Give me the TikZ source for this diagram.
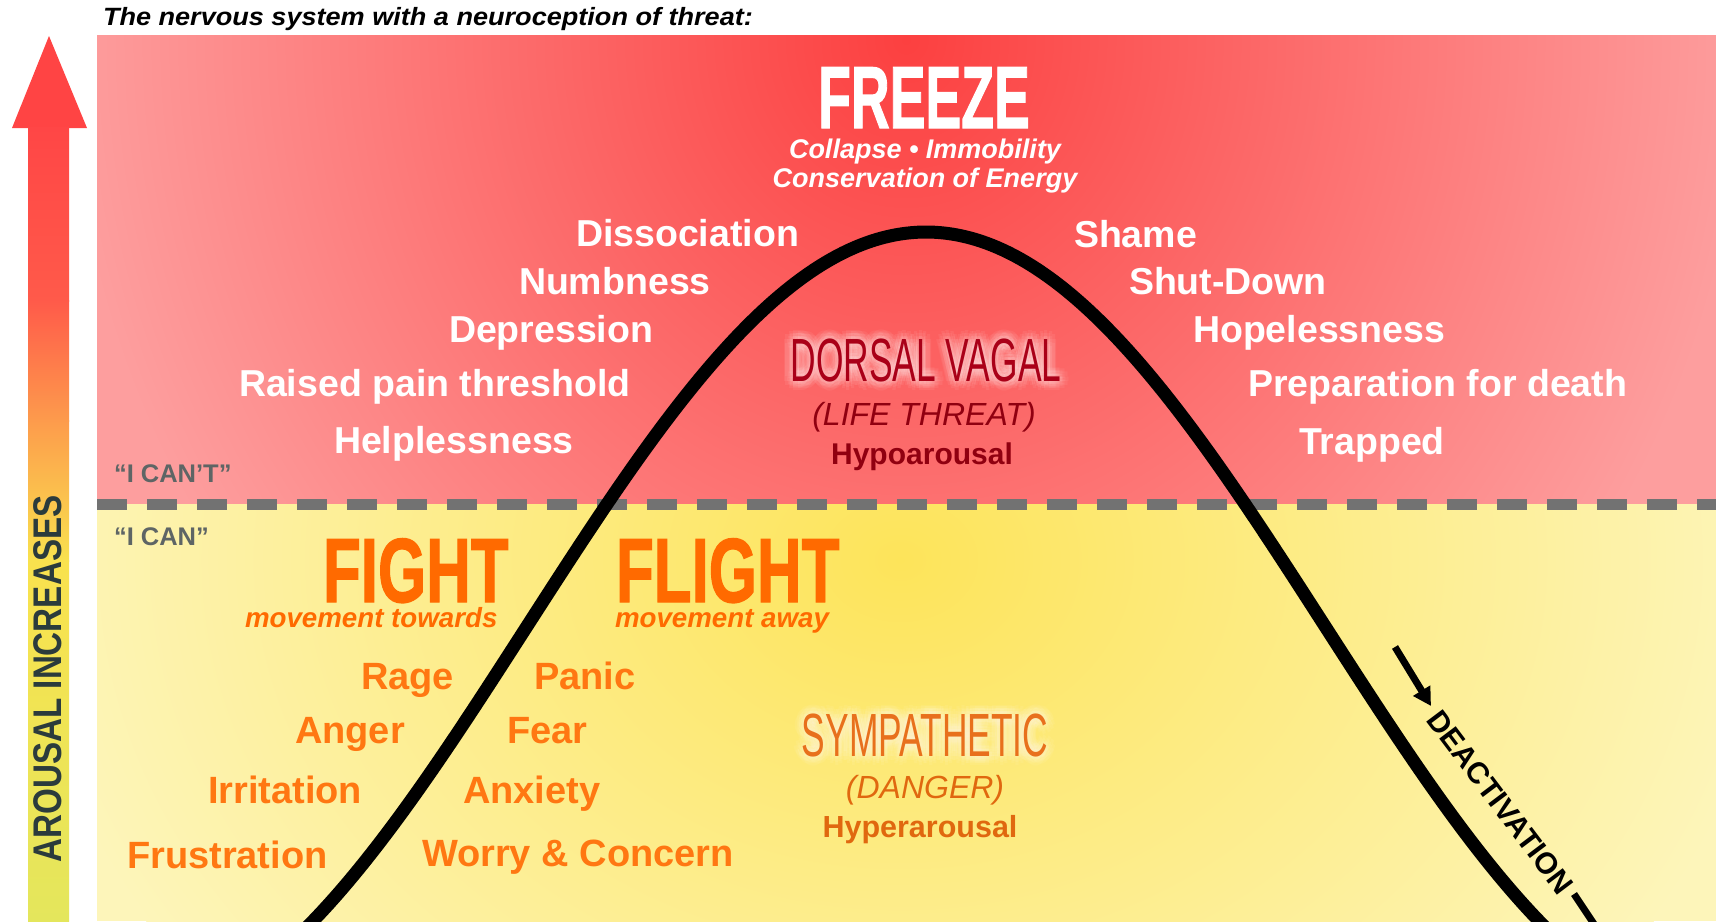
\documentclass[tikz,border=0pt]{standalone}
\usepackage{fontspec}
\setmainfont{Liberation Sans}
\newfontfamily\heavyfont[FakeBold=1.6]{Liberation Sans}
\usepackage{graphicx}
\usetikzlibrary{arrows.meta,calc}

\definecolor{pinkedge}{HTML}{FD9E9E}
\definecolor{redcore}{HTML}{FC4040}
\definecolor{ylwedge}{HTML}{FDF5BA}
\definecolor{ylwcore}{HTML}{FDE45A}
\definecolor{dashgray}{HTML}{727272}
\definecolor{cangray}{HTML}{5E6565}
\definecolor{fightor}{HTML}{FF6A00}
\definecolor{listor}{HTML}{FF7712}
\definecolor{dorsal}{HTML}{AA0018}
\definecolor{dorsaltxt}{HTML}{900010}
\definecolor{symp}{HTML}{E8701C}
\definecolor{symptxt}{HTML}{E0680F}
\definecolor{arousal}{HTML}{2B3B3C}
\definecolor{arrowred}{HTML}{FF4444}
\definecolor{shA}{HTML}{FF4646}
\definecolor{shB}{HTML}{FF5A4A}
\definecolor{shC}{HTML}{FD9B4C}
\definecolor{shD}{HTML}{F9E24E}
\definecolor{shE}{HTML}{E4E65C}

\newcommand{\glowat}[3]{%
  \foreach \ga in {0,30,...,330}{\foreach \gr in {3,6,9}{%
    \node[anchor=base, text=white, text opacity=0.06] at ($(#1)+(\ga:\gr)$) {#2\selectfont #3};}}}

\begin{document}
\begin{tikzpicture}[x=1pt,y=-1pt,
  every node/.style={inner sep=0pt, outer sep=0pt},
  wlist/.style={text=white, font=\fontsize{37.5}{37.5}\selectfont\bfseries, anchor=base west},
  olist/.style={text=listor, font=\fontsize{38}{38}\selectfont\bfseries, anchor=base west},
  cantxt/.style={text=cangray, font=\fontsize{25.5}{25.5}\selectfont\bfseries, anchor=base west},
  bigor/.style={text=fightor, font=\heavyfont\fontsize{91}{91}\selectfont\bfseries, anchor=base west},
  movetxt/.style={text=fightor, font=\fontsize{27.7}{27.7}\selectfont\bfseries\itshape, anchor=base west},
  freezesub/.style={text=white, font=\fontsize{27}{27}\selectfont\bfseries\itshape, anchor=base},
  curveline/.style={line width=13pt, black},
  deactline/.style={line width=7pt, black}]

\useasboundingbox (0,0) rectangle (1716,921);
\fill[white] (0,0) rectangle (1716,921);

% red zone
\begin{scope}
  \clip (97,35) rectangle (1716,504);
  \fill[pinkedge] (97,35) rectangle (1716,504);
  \shade[inner color=redcore, outer color=pinkedge] (906,40) ellipse [x radius=840, y radius=900];
\end{scope}
% yellow zone
\begin{scope}
  \clip (97,504) rectangle (1716,921);
  \fill[ylwedge] (97,504) rectangle (1716,921);
  \shade[inner color=ylwcore, outer color=ylwedge] (900,560) ellipse [x radius=880, y radius=700];
\end{scope}

% dashed divider
\draw[dashgray, line width=11pt, dash pattern=on 30pt off 20pt] (97,504) -- (1716,504);

% arousal arrow
\fill[arrowred] (49,36) -- (12,128) -- (87,128) -- cycle;
\shade[top color=shA, bottom color=shB] (28,127) rectangle (69,301);
\shade[top color=shB, bottom color=shC] (28,300) rectangle (69,421);
\shade[top color=shC, bottom color=shD] (28,420) rectangle (69,561);
\shade[top color=shD, bottom color=shE] (28,560) rectangle (69,921);
\node[rotate=90, text=arousal] (arousal) at (48,679) {\fontsize{40}{40}\selectfont\bfseries\scalebox{0.83}[1]{AROUSAL INCREASES}};

% title
\node[anchor=base west] (title) at (103,25) {\fontsize{25}{25}\selectfont\bfseries\itshape\scalebox{1.083}[1]{The nervous system with a neuroception of threat:}};

% curve
\begin{scope}
  \clip (97,35) rectangle (1716,921);
  \draw[curveline] plot[variable=\t, domain=-625:625, samples=220] ({926+\t}, {232+395*(1-cos(\t*0.225282))});
\end{scope}

% FREEZE block
\node[anchor=base, text=white] (freeze) at (924,128) {\heavyfont\fontsize{88}{88}\selectfont\bfseries\scalebox{0.61}[1]{FREEZE}};
\node[freezesub] (collapse) at (925,158) {Collapse • Immobility};
\node[freezesub] (conserv) at (925,187) {Conservation of Energy};

% white list
\node[wlist] (dis) at (576,246) {Dissociation};
\node[wlist] (numb) at (519,294) {Numbness};
\node[wlist] (dep) at (449,342) {Depression};
\node[wlist] (pain) at (239,396) {Raised pain threshold};
\node[wlist] (help) at (334,453) {Helplessness};
\node[wlist] (shame) at (1074,247) {Shame};
\node[wlist] (shut) at (1129,294) {Shut-Down};
\node[wlist] (hope) at (1193,342) {Hopelessness};
\node[wlist] (prep) at (1248,396) {Preparation for death};
\node[wlist] (trap) at (1299,454) {Trapped};

% dorsal vagal
\glowat{926,381}{\fontsize{61}{61}}{\scalebox{0.58}[1]{DORSAL VAGAL}}
\node[anchor=base, text=dorsal] (dv) at (926,381) {\fontsize{61}{61}\selectfont\scalebox{0.58}[1]{DORSAL VAGAL}};
\node[anchor=base, text=dorsaltxt] (lt) at (924,425) {\fontsize{32}{32}\selectfont\itshape (LIFE THREAT)};
\node[anchor=base, text=dorsaltxt] (hypo) at (922,464) {\fontsize{30}{30}\selectfont\bfseries Hypoarousal};

% I can / I can't
\node[cantxt] (cant) at (114,482) {``I CAN'T''};
\node[cantxt] (can) at (114,545) {``I CAN''};

% fight / flight
\node[bigor] (fight) at (323,602) {\scalebox{0.68}[1]{FIGHT}};
\node[bigor] (flight) at (616,602) {\scalebox{0.68}[1]{FLIGHT}};
\node[movetxt] (towards) at (245,627) {movement towards};
\node[movetxt] (away) at (615,627) {movement away};

% orange list
\node[olist] (rage) at (361,689) {Rage};
\node[olist] (anger) at (295,743) {Anger};
\node[olist] (irr) at (208,803) {Irritation};
\node[olist] (frus) at (127,868) {Frustration};
\node[olist] (panic) at (534,689) {Panic};
\node[olist] (fear) at (507,743) {Fear};
\node[olist] (anx) at (463,803) {Anxiety};
\node[olist] (worry) at (422,866) {Worry \& Concern};

% sympathetic
\glowat{925,756}{\fontsize{61}{61}}{\scalebox{0.58}[1]{SYMPATHETIC}}
\node[anchor=base, text=symp] (sym) at (925,756) {\fontsize{61}{61}\selectfont\scalebox{0.58}[1]{SYMPATHETIC}};
\node[anchor=base, text=symptxt] (danger) at (925,798) {\fontsize{32}{32}\selectfont\itshape (DANGER)};
\node[anchor=base, text=symptxt] (hyper) at (920,837) {\fontsize{30.5}{30.5}\selectfont\bfseries Hyperarousal};

% deactivation
\node[rotate=-53, text=black] (deact) at (1500,802) {\fontsize{30}{30}\selectfont\bfseries DEACTIVATION};
\coordinate (arrS) at (1395,647);
\coordinate (arrE) at (1431,706);
\coordinate (dashS) at (1574,894);
\coordinate (dashE) at (1600,933);
\draw[deactline, -{Triangle[length=18pt,width=19pt]}] (arrS) -- (arrE);
\begin{scope}
  \clip (97,35) rectangle (1716,921);
  \draw[deactline] (dashS) -- (dashE);
\end{scope}
\end{tikzpicture}
\end{document}
